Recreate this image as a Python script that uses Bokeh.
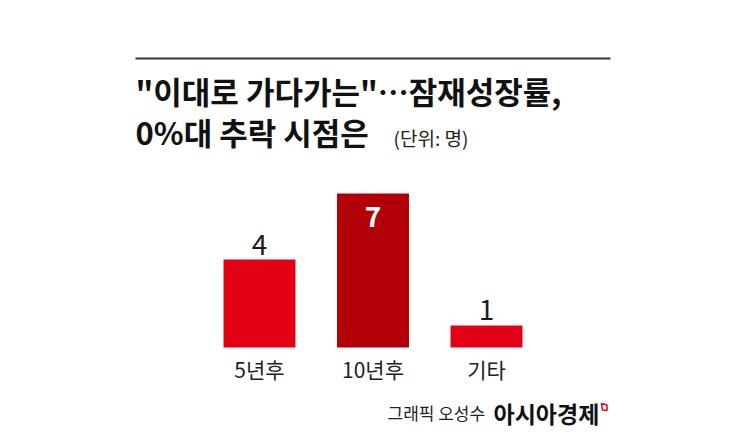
from bokeh.plotting import figure
from bokeh.models import ColumnDataSource, FactorRange, Range1d
from bokeh.core.properties import value
from bokeh.embed import file_html
from bokeh.resources import INLINE

categories = ["5년후", "10년후", "기타"]
counts = [4, 7, 1]
bar_colors = ["#e40014", "#b30008", "#e40014"]
label_colors = ["#1a1a1a", "#ffffff", "#1a1a1a"]
label_styles = ["normal", "bold", "normal"]
label_offsets = [-15, 23, -16]

title_line1 = '"이대로 가다가는"…잠재성장률,'
title_line2 = "0%대 추락 시점은"
unit_text = "(단위: 명)"
credit_text = "그래픽 오성수"
brand_text = "아시아경제"

W, H = 729, 435
LEFT = 16             # frame left border
FONT = "Noto Sans CJK KR"

# layout geometry (pixels)
STEP = 113.5          # px per category
BASE = 347.0          # baseline px from top
UNIT = 22.0           # px per count
n = len(categories)
FW = W - LEFT
pad_frac = (FW / STEP - n) / n
X0 = -n * pad_frac / 2
Y_TOP = BASE / UNIT
Y_BOT = -(H - BASE) / UNIT


def px(x):
    return X0 + (x - LEFT) / STEP


def py(y):
    return Y_TOP - y / UNIT


p = figure(width=W, height=H, output_backend="svg", toolbar_location=None,
           x_range=FactorRange(factors=categories, range_padding=pad_frac,
                               range_padding_units="percent"),
           y_range=Range1d(Y_BOT, Y_TOP),
           min_border=0, min_border_left=LEFT, tools="")
p.axis.visible = False
p.grid.visible = False
p.outline_line_color = None
p.background_fill_color = "white"
p.border_fill_color = "white"

src = ColumnDataSource(dict(cat=categories, val=counts, color=bar_colors,
                            lcolor=label_colors, lstyle=label_styles,
                            loff=label_offsets, zero=[0] * n))

p.vbar(x="cat", top="val", bottom=0, width=0.634, color="color",
       line_color=None, source=src)

# value labels
p.text(x="cat", y="val", text="val", source=src, y_offset="loff",
       text_color="lcolor", text_font_style="lstyle",
       text_font=value(FONT), text_font_size="28px",
       text_align="center", text_baseline="middle")

# category labels
p.text(x="cat", y="zero", text="cat", source=src, y_offset=21,
       text_color="#222222", text_font=value(FONT), text_font_size="21px",
       text_align="center", text_baseline="middle")

# title rule
p.line(x=[px(135), px(610)], y=[py(58), py(58)],
       line_color="#333333", line_width=2)

# titles
p.text(x=[px(135)], y=[py(90)], text=[title_line1],
       text_font=value(FONT), text_font_style="bold", text_font_size="31px",
       text_color="#111111", text_baseline="middle", text_align="left")
p.text(x=[px(135)], y=[py(131)], text=[title_line2],
       text_font=value(FONT), text_font_style="bold", text_font_size="31px",
       text_color="#111111", text_baseline="middle", text_align="left")
p.text(x=[px(393)], y=[py(137)], text=[unit_text],
       text_font=value(FONT), text_font_size="19px",
       text_color="#222222", text_baseline="middle", text_align="left")

# footer
p.text(x=[px(387)], y=[py(412)], text=[credit_text],
       text_font=value(FONT), text_font_size="17px",
       text_color="#222222", text_baseline="middle", text_align="left")
p.text(x=[px(493)], y=[py(412)], text=[brand_text],
       text_font=value(FONT), text_font_style="bold", text_font_size="23px",
       text_color="#111111", text_baseline="middle", text_align="left")
p.patch(x=[px(601), px(606.5), px(606.5), px(602)],
        y=[py(403), py(404.5), py(410), py(409.5)],
        fill_color=None, line_color="#e40014", line_width=1.5)

open("out.html", "w").write(file_html(p, INLINE))
